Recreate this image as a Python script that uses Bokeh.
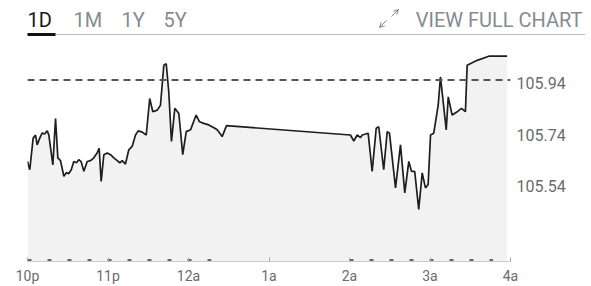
from bokeh.plotting import figure
from bokeh.layouts import column
from bokeh.models import Range1d, FixedTicker, Span, Arrow, OpenHead, NumeralTickFormatter
from bokeh.core.properties import value
from bokeh.embed import file_html
from bokeh.resources import INLINE

# ---------------- data ----------------
# minutes after 10 pm
minutes = [
    0, 1.7, 4.2, 6.0, 7.2, 9.2, 11.0, 12.7, 14.7, 15.9,
    18.9, 20.9, 22.6, 24.6, 27.1, 29.1, 30.8, 32.6, 34.5, 36.5,
    38.2, 40.0, 42.0, 44.5, 47.0, 49.4, 51.9, 53.4, 54.9, 56.9,
    59.4, 61.9, 64.3, 66.9, 68.8, 70.6, 73.0, 75.5, 78.0, 80.5,
    82.5, 85.5, 88.5, 91.1, 93.4, 96.7, 99.1, 101.6, 103.4, 105.3,
    107.3, 109.8, 112.8, 115.7, 118.3, 121.5, 125.7, 128.2, 131.4, 135.1,
    139.6, 141.4, 145.1, 148.3, 240.7, 243.2, 245.7, 248.2, 249.5, 251.4,
    253.9, 256.9, 259.9, 261.8, 265.5, 268.1, 269.8, 274.3, 278.0, 281.2,
    284.2, 286.2, 288.6, 291.6, 294.2, 296.6, 298.6, 300.4, 302.8, 306.1,
    307.8, 312.1, 313.6, 316.5, 320.3, 323.5, 326.4, 327.7, 335.2, 343.8,
    357.5,
]
prices = [
    105.636, 105.604, 105.726, 105.738, 105.700, 105.727, 105.746, 105.742, 105.754, 105.738,
    105.623, 105.802, 105.650, 105.639, 105.579, 105.593, 105.589, 105.604, 105.636, 105.631,
    105.643, 105.635, 105.598, 105.636, 105.639, 105.650, 105.669, 105.687, 105.559, 105.662,
    105.669, 105.662, 105.650, 105.639, 105.631, 105.639, 105.626, 105.681, 105.694, 105.738,
    105.754, 105.749, 105.738, 105.879, 105.828, 105.834, 105.853, 106.007, 106.013, 105.904,
    105.713, 105.841, 105.821, 105.662, 105.751, 105.758, 105.815, 105.789, 105.783, 105.777,
    105.764, 105.758, 105.732, 105.774, 105.738, 105.715, 105.738, 105.728, 105.738, 105.741,
    105.745, 105.598, 105.764, 105.770, 105.604, 105.751, 105.745, 105.534, 105.700, 105.515,
    105.636, 105.598, 105.598, 105.451, 105.592, 105.534, 105.547, 105.738, 105.745, 105.853,
    105.962, 105.758, 105.885, 105.815, 105.828, 105.841, 105.828, 106.007, 106.026, 106.042,
    106.042,
]
prev_close = 105.95
x_tick_minutes = [0, 60, 120, 180, 240, 300, 360]
x_tick_labels = ["10p", "11p", "12a", "1a", "2a", "3a", "4a"]
y_ticks = [105.54, 105.74, 105.94]
session_ranges = [(0, 137), (240, 347)]   # minutes marked on the baseline
tabs = ["1D", "1M", "1Y", "5Y"]
link_text = "VIEW FULL CHART"

FONT = "Roboto"
GRAY = "#858b92"

# ---------------- header ----------------
HDR_H = 42
h = figure(width=591, height=HDR_H, output_backend="svg", toolbar_location=None,
           x_range=Range1d(0, 591), y_range=Range1d(HDR_H, 0),
           x_axis_type=None, y_axis_type=None, min_border=0)
h.outline_line_color = None
h.grid.visible = False
h.frame_align = False

TEXT_Y = 19
tab_x = [27, 73, 121, 163]
tab_colors = ["#1a1a1a", GRAY, GRAY, GRAY]
h.text(x=tab_x, y=[TEXT_Y] * len(tabs), text=tabs, text_color=tab_colors,
       text_font=value(FONT), text_font_size=value("20px"), text_baseline="alphabetic")
h.text(x=[582], y=[TEXT_Y], text=[link_text], text_color=GRAY, text_align="right",
       text_font=value(FONT), text_font_size=value("20px"), text_baseline="alphabetic")
# active-tab underline and dotted rule
h.segment(x0=[27], y0=[34], x1=[55], y1=[34], line_color="#111111", line_width=3)
h.segment(x0=[55], y0=[34], x1=[585], y1=[34], line_color="#777777", line_width=1,
          line_dash="1 1")
# expand icon
h.add_layout(Arrow(x_start=386, y_start=20, x_end=379, y_end=27,
                   end=OpenHead(size=5, line_color=GRAY, line_width=1),
                   line_color=GRAY, line_width=1))
h.add_layout(Arrow(x_start=391, y_start=16, x_end=398, y_end=9,
                   end=OpenHead(size=5, line_color=GRAY, line_width=1),
                   line_color=GRAY, line_width=1))

# ---------------- main chart ----------------
W, H = 591, 286 - HDR_H
LEFT, RIGHT, TOP, BOTTOM = 27, 81, 8, 24
FRAME_H = H - TOP - BOTTOM
PX_PER_UNIT = 260.5
y_end = 105.94 + (82.3 - (HDR_H + TOP)) / PX_PER_UNIT
y_start = y_end - FRAME_H / PX_PER_UNIT

p = figure(width=W, height=H, output_backend="svg", toolbar_location=None,
           x_range=Range1d(0, 360), y_range=Range1d(y_start, y_end),
           y_axis_location="right",
           min_border_left=LEFT, min_border_right=RIGHT,
           min_border_top=TOP, min_border_bottom=BOTTOM)
p.outline_line_color = None
p.grid.visible = False
p.frame_align = False

p.varea(x=minutes, y1=y_start, y2=prices, fill_color="#f2f2f2")
p.line(x=minutes, y=prices, line_color="#1e1e1e", line_width=1.7)

p.add_layout(Span(location=prev_close, dimension="width", line_color="#555555",
                  line_width=2, line_dash="7 5"))

base_y = y_start + 1.5 / PX_PER_UNIT
for a, b in session_ranges:
    p.line(x=[a, b], y=[base_y, base_y], line_color="#666666", line_width=2, line_dash="4 16")

xa = p.xaxis[0]
xa.ticker = FixedTicker(ticks=x_tick_minutes)
xa.major_label_overrides = {m: l for m, l in zip(x_tick_minutes, x_tick_labels)}
xa.axis_line_color = "#cccccc"
xa.major_tick_line_color = "#aaaaaa"
xa.major_tick_in = 4
xa.major_tick_out = 0
xa.minor_tick_line_color = None
xa.major_label_standoff = 6
xa.major_label_text_font = FONT
xa.major_label_text_font_size = "14px"
xa.major_label_text_color = "#6b6b6b"

ya = p.yaxis[0]
ya.ticker = FixedTicker(ticks=y_ticks)
ya.formatter = NumeralTickFormatter(format="0.00")
ya.axis_line_color = None
ya.major_tick_line_color = None
ya.minor_tick_line_color = None
ya.major_label_standoff = 0
ya.major_label_text_font = FONT
ya.major_label_text_font_size = "16px"
ya.major_label_text_color = "#6b6b6b"

open("out.html", "w").write(file_html(column(h, p, spacing=0), INLINE))
